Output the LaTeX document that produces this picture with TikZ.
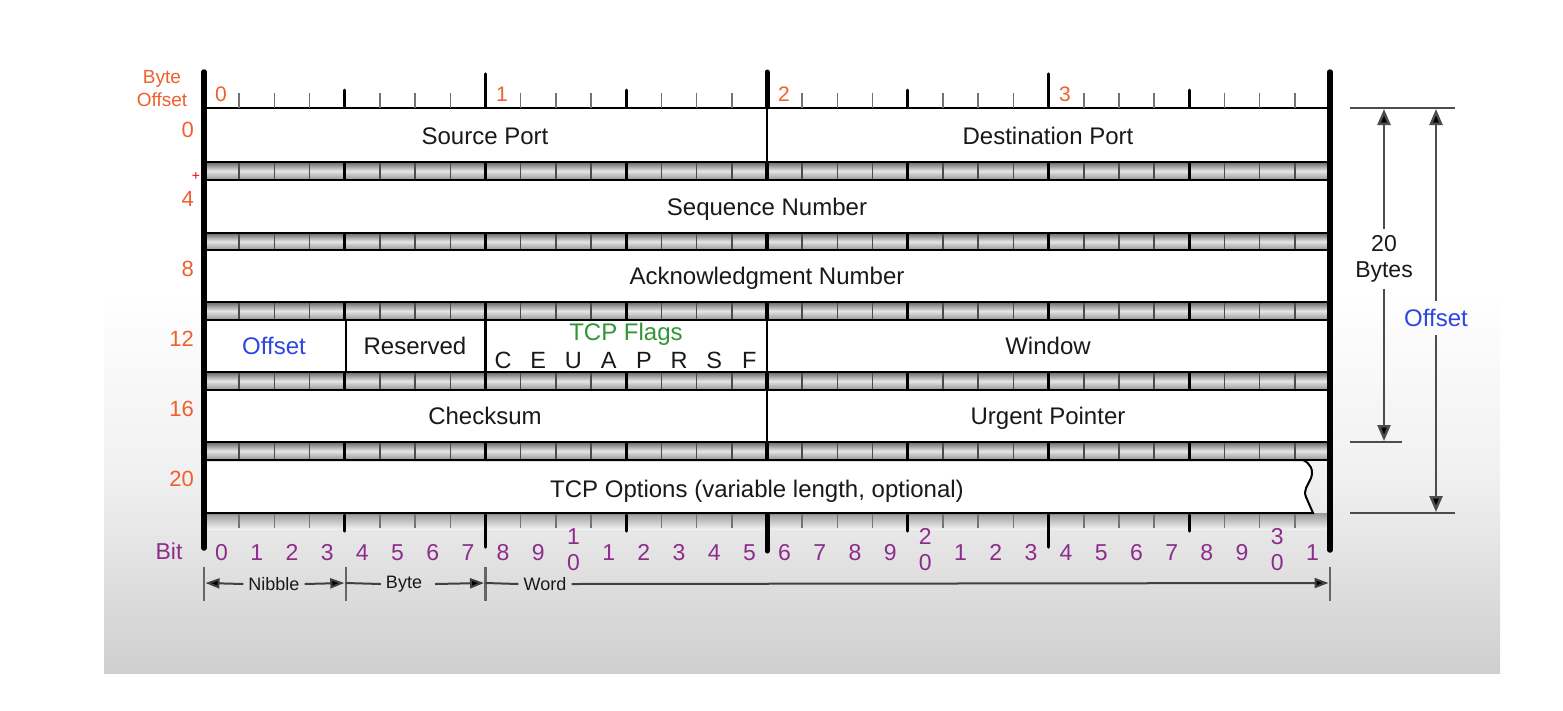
\documentclass[tikz,border=0pt]{standalone}
\usepackage{fontspec}
\setmainfont{Liberation Sans}
\usetikzlibrary{arrows.meta,calc}
\definecolor{offorange}{RGB}{240,95,45}
\definecolor{offblue}{RGB}{45,70,225}
\definecolor{flaggreen}{RGB}{50,150,55}
\definecolor{bitpurple}{RGB}{140,45,140}
\definecolor{ink}{RGB}{25,25,25}
\begin{document}
\begin{tikzpicture}[x=1pt,y=-1pt,
  lbl/.style={font=\fontsize{24}{27}\selectfont, text=ink, inner sep=0pt, anchor=base},
  flag/.style={font=\fontsize{23.5}{26}\selectfont, text=ink, inner sep=0pt, anchor=base},
  rowlbl/.style={font=\fontsize{22}{24}\selectfont, text=offorange, inner sep=0pt, anchor=base east},
  bytelbl/.style={font=\fontsize{21}{24}\selectfont, text=offorange, inner sep=0pt, anchor=base},
  bitlbl/.style={font=\fontsize{23}{25}\selectfont, text=bitpurple, inner sep=0pt, anchor=base},
  smalllbl/.style={font=\fontsize{18}{20}\selectfont, text=ink, inner sep=1pt},
  rowbox/.style={draw=black, line width=2pt, fill=white},
  bandline/.style={draw=black!70, line width=1.6pt},
  nibline/.style={draw=black, line width=2.8pt},
  bitick/.style={draw=black!55, line width=1.6pt},
  nibtick/.style={draw=black, line width=3pt, line cap=round},
  bytetick/.style={draw=black, line width=3.5pt, line cap=round},
  midtick/.style={draw=black, line width=5pt, line cap=round},
  bar/.style={draw=black, line width=5.5pt, line cap=round},
  rline/.style={draw=black!70, line width=2.5pt},
  rarrow/.style={draw=black!70, line width=2.5pt, -{Triangle[length=16pt,width=13pt,fill=black]}},
  barrow/.style={draw=black!75, line width=2pt, -{Triangle[length=14pt,width=10pt,fill=black]}},
  bplain/.style={draw=black!75, line width=2pt},
  bbar/.style={draw=black!60, line width=2.5pt}]
\useasboundingbox (0,0) rectangle (1563,710);
% panel
\fill[white] (104,0) rectangle (1500,300);
\shade[top color=white, bottom color=white!81!black, middle color=white!94!black] (104,290) rectangle (1500,673);
\def\bw{35.1875}
% rows
\foreach \ya/\yb in {108/162,180/233,250/302,320/372,390/442}
  \draw[rowbox] (204,\ya) rectangle (1330,\yb);
% bands
\foreach \ya/\yb in {162/180,233/250,302/320,372/390,442/460}{
  \shade[top color=black!60, bottom color=black!42, middle color=black!10] (204,\ya) rectangle (1330,\yb);
  \foreach \i in {1,...,31} \draw[bandline] ({204+\bw*\i},\ya) -- ({204+\bw*\i},\yb);
  \foreach \i in {4,8,12,20,24,28} \draw[nibline] ({204+\bw*\i},\ya) -- ({204+\bw*\i},\yb);
  \draw[draw=black, line width=4.5pt] (767,\ya) -- (767,\yb);
  \draw[black, line width=2pt] (204,\ya) -- (1330,\ya) (204,\yb) -- (1330,\yb);
}
% bottom shadow band
\shade[top color=black!40, bottom color=black!6] (204,513) rectangle (1330,529);
% options box
\draw[rowbox] (204,460) -- (1303,460) .. controls (1310,463) and (1314,470) .. (1311,478)
  .. controls (1308,485) and (1303,490) .. (1306,497) -- (1313,513) -- (204,513) -- cycle;
% row dividers
\draw[black, line width=2pt] (767,108) -- (767,162);
\draw[black, line width=2pt] (345.75,320) -- (345.75,372);
\draw[black, line width=2.5pt] (485.5,320) -- (485.5,372);
\draw[black, line width=2pt] (767,320) -- (767,372);
\draw[black, line width=2pt] (767,390) -- (767,442);
% top ticks
\foreach \i in {1,...,31} \draw[bitick] ({204+\bw*\i},93) -- ({204+\bw*\i},108);
\foreach \i in {4,12,20,28} \draw[nibtick] ({204+\bw*\i},90) -- ({204+\bw*\i},107);
\foreach \i in {8,24} \draw[bytetick] ({204+\bw*\i},74) -- ({204+\bw*\i},107);
\draw[midtick] (767,72) -- (767,107);
% bottom ticks
\foreach \i in {1,...,31} \draw[bitick] ({204+\bw*\i},514) -- ({204+\bw*\i},528);
\foreach \i in {4,12,20,28} \draw[nibtick] ({204+\bw*\i},515) -- ({204+\bw*\i},531);
\foreach \i in {8,24} \draw[bytetick] ({204+\bw*\i},515) -- ({204+\bw*\i},547);
\draw[midtick] (767,515) -- (767,551);
% side bars
\draw[bar] (204,72) -- (204,548);
\draw[bar] (1330,72) -- (1330,550);
% byte offset header
\node[font=\fontsize{19}{23}\selectfont, text=offorange, align=center, inner sep=0pt] (hdr) at (162,89) {Byte\\Offset};
\node[bytelbl] (b0) at (221,101) {0};
\node[bytelbl] (b1) at (502,101) {1};
\node[bytelbl] (b2) at (784,101) {2};
\node[bytelbl] (b3) at (1065,101) {3};
% row offsets
\node[rowlbl] (o0) at (194,137) {0};
\node[rowlbl] (o4) at (194,206) {4};
\node[rowlbl] (o8) at (194,276) {8};
\node[rowlbl] (o12) at (194,346) {12};
\node[rowlbl] (o16) at (194,416) {16};
\node[rowlbl] (o20) at (194,486) {20};
\node[font=\fontsize{14}{15}\selectfont, text=red, inner sep=0pt] (plus) at (196,176) {+};
% field labels
\node[lbl] (sp) at (485,144) {Source Port};
\node[lbl] (dp) at (1048,144) {Destination Port};
\node[lbl] (seq) at (767,215) {Sequence Number};
\node[lbl] (ack) at (767,284) {Acknowledgment Number};
\node[lbl, text=offblue] (off) at (274,354) {Offset};
\node[lbl] (res) at (415,354) {Reserved};
\node[lbl, text=flaggreen, font=\fontsize{24}{26}\selectfont] (flags) at (626,340) {TCP Flags};
\foreach \l [count=\k from 8] in {C,E,U,A,P,R,S,F}
  \node[flag] (f\k) at ({204+\bw*(\k+0.5)},368) {\l};
\node[lbl] (win) at (1048,354) {Window};
\node[lbl] (chk) at (485,424) {Checksum};
\node[lbl] (urg) at (1048,424) {Urgent Pointer};
\node[lbl] (opt) at (757,497) {TCP Options (variable length, optional)};
% bit numbers
\node[bitlbl] (bit) at (169,559) {Bit};
\foreach \d [count=\k from 0] in {0,1,2,3,4,5,6,7,8,9}
  \node[bitlbl] (n\k) at ({204+\bw*(\k+0.5)},560) {\d};
\foreach \d [count=\k from 11] in {1,2,3,4,5,6,7,8,9}
  \node[bitlbl] (n\k) at ({204+\bw*(\k+0.5)},560) {\d};
\foreach \d [count=\k from 21] in {1,2,3,4,5,6,7,8,9}
  \node[bitlbl] (n\k) at ({204+\bw*(\k+0.5)},560) {\d};
\node[bitlbl] (n31) at ({204+\bw*31.5},560) {1};
\foreach \k/\d in {10/1,20/2,30/3}{
  \node[bitlbl] (n\k a) at ({204+\bw*(\k+0.5)},544) {\d};
  \node[bitlbl] (n\k b) at ({204+\bw*(\k+0.5)},570) {0};
}
% bottom measures
\coordinate (m0) at (204,583);
\coordinate (m1) at (345.75,583);
\coordinate (m2) at (485.5,583);
\coordinate (m3) at (1330,583);
\foreach \x in {204,345.75,485.5,1330} \draw[bbar] (\x,567) -- (\x,601);
\node[smalllbl] (nib) at (274,584) {Nibble};
\node[smalllbl] (byt) at (404,584) {Byte};
\node[smalllbl] (wrd) at (545,584) {Word};
\draw[barrow] ([xshift=-4pt]nib.west) -- ([xshift=1.5pt]m0);
\draw[barrow] ([xshift=4pt]nib.east) -- ([xshift=-1.5pt]m1);
\draw[bplain] (m1) -- ([xshift=-4pt]byt.west);
\draw[barrow] ([xshift=12pt]byt.east) -- ([xshift=-1.5pt]m2);
\draw[bplain] (m2) -- ([xshift=-4pt]wrd.west);
\draw[barrow] ([xshift=4pt]wrd.east) -- ([xshift=-1.5pt]m3);
% right measures
\draw[rline] (1350,108) -- (1455,108);
\draw[rline] (1350,442) -- (1402,442);
\draw[rline] (1350,513) -- (1455,513);
\coordinate (ra) at (1384,109);
\coordinate (rb) at (1384,441);
\coordinate (rc) at (1436,109);
\coordinate (rd) at (1436,512);
\node[font=\fontsize{23}{26}\selectfont, text=ink, align=center, inner sep=6pt] (twenty) at (1384,259) {20\\Bytes};
\node[font=\fontsize{24}{27}\selectfont, text=offblue, inner sep=8pt] (roff) at (1436,318) {Offset};
\draw[rarrow] (twenty.north) -- (ra);
\draw[rarrow] (twenty.south) -- (rb);
\draw[rarrow] (roff.north) -- (rc);
\draw[rarrow] (roff.south) -- (rd);
\end{tikzpicture}
\end{document}
